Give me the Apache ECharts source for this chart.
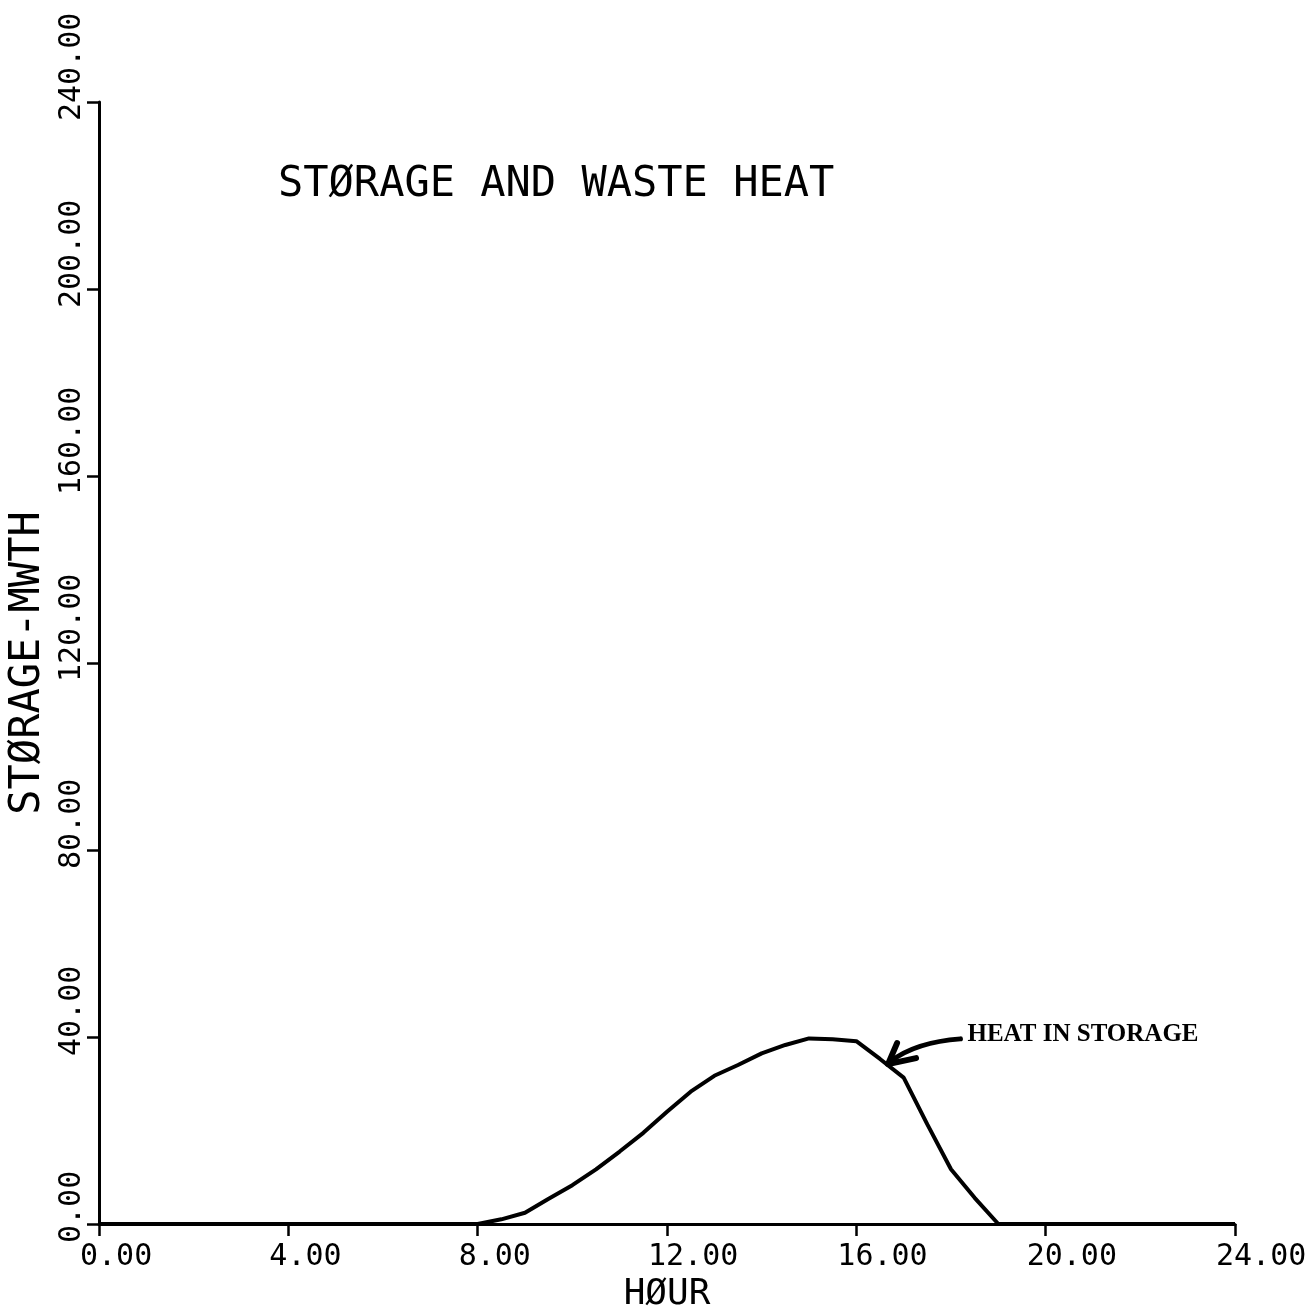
<!DOCTYPE html>
<html>
<head>
<meta charset="utf-8">
<title>Storage and Waste Heat</title>
<script src="https://cdn.jsdelivr.net/npm/echarts@6/dist/echarts.min.js"></script>
<style>
  html, body { margin: 0; padding: 0; background: #fff; }
  #chart { width: 1316px; height: 1306px; }
</style>
</head>
<body>
<div id="chart"></div>
<script>
// data
const hours = [0, 1, 2, 3, 4, 5, 6, 7, 8, 8.5, 9, 9.5, 10, 10.5, 11, 11.5, 12, 12.5, 13, 13.5,
               14, 14.5, 15, 15.5, 16, 16.5, 17, 17.5, 18, 18.5, 19, 20, 21, 22, 23, 24];
const heatInStorage = [0, 0, 0, 0, 0, 0, 0, 0, 0, 1.0, 2.4, 5.4, 8.3, 11.7, 15.5, 19.5, 24.0, 28.3, 31.7, 34.0,
                       36.5, 38.3, 39.7, 39.5, 39.1, 35.3, 31.3, 21.3, 11.7, 5.6, 0, 0, 0, 0, 0, 0];
const xTicks = { min: 0, max: 24, step: 4 };
const yTicks = { min: 0, max: 240, step: 40 };
const titleText = 'STØRAGE AND WASTE HEAT';
const xName = 'HØUR';
const yName = 'STØRAGE-MWTH';
const noteText = 'HEAT IN STORAGE';
const arrowTip = [16.67, 34.2];
const arrowTail = [18.2, 39.6];

const mono = '"DejaVu Sans Mono", "Liberation Mono", monospace';
const ink = '#000';

// ticks sit over the second character of each label
const tickLabel = {
  fontFamily: mono,
  fontSize: 30,
  color: ink,
  formatter: v => '{t|' + v.toFixed(2) + '}',
  rich: { t: { width: 38, align: 'left', fontFamily: mono, fontSize: 30, color: ink } }
};

const chart = echarts.init(document.getElementById('chart'));

chart.setOption({
  animation: false,
  backgroundColor: '#fff',
  title: {
    text: titleText,
    left: 273,
    top: 159,
    textStyle: { fontFamily: mono, fontSize: 42, fontWeight: 'normal', color: ink }
  },
  grid: { left: 99, right: 81, top: 102, bottom: 82, outerBoundsMode: 'none', containLabel: false },
  xAxis: {
    type: 'value',
    min: xTicks.min,
    max: xTicks.max,
    interval: xTicks.step,
    name: xName,
    nameLocation: 'middle',
    nameGap: 37,
    nameTextStyle: { fontFamily: mono, fontSize: 36, color: ink },
    axisLine: { lineStyle: { color: ink, width: 3 } },
    axisTick: { length: 12, lineStyle: { color: ink, width: 2.5 } },
    axisLabel: Object.assign({ margin: 18 }, tickLabel),
    splitLine: { show: false }
  },
  yAxis: {
    type: 'value',
    min: yTicks.min,
    max: yTicks.max,
    interval: yTicks.step,
    name: yName,
    nameLocation: 'middle',
    nameGap: 47,
    nameRotate: 90,
    nameTextStyle: { fontFamily: mono, fontSize: 42, color: ink },
    axisLine: { show: true, lineStyle: { color: ink, width: 3 } },
    axisTick: { show: true, length: 12, lineStyle: { color: ink, width: 2.5 } },
    axisLabel: Object.assign({ margin: 12, rotate: 90 }, tickLabel),
    splitLine: { show: false }
  },
  series: [{
    type: 'line',
    data: hours.map((h, i) => [h, heatInStorage[i]]),
    showSymbol: false,
    smooth: false,
    lineStyle: { color: ink, width: 4 }
  }]
});

// hand-drawn style pointer to the curve
const tip = chart.convertToPixel({ gridIndex: 0 }, arrowTip);
const tail = chart.convertToPixel({ gridIndex: 0 }, arrowTail);
chart.setOption({
  graphic: [
    {
      type: 'bezierCurve',
      shape: {
        x1: tail[0], y1: tail[1],
        x2: tip[0] + 3, y2: tip[1] - 3,
        cpx1: tip[0] + 28, cpy1: tip[1] - 22
      },
      style: { stroke: ink, lineWidth: 5, fill: null, lineCap: 'round' }
    },
    {
      type: 'polyline',
      shape: { points: [[tip[0] + 9, tip[1] - 21], tip, [tip[0] + 28, tip[1] - 6]] },
      style: { stroke: ink, lineWidth: 6, fill: null, lineCap: 'round', lineJoin: 'round' }
    },
    {
      type: 'text',
      x: tail[0] + 7,
      y: tail[1] - 4,
      style: {
        text: noteText,
        fontFamily: '"Liberation Serif", "DejaVu Serif", serif',
        fontWeight: 'bold',
        fontSize: 25,
        fill: ink,
        align: 'left',
        verticalAlign: 'middle'
      }
    }
  ]
});
</script>
</body>
</html>
